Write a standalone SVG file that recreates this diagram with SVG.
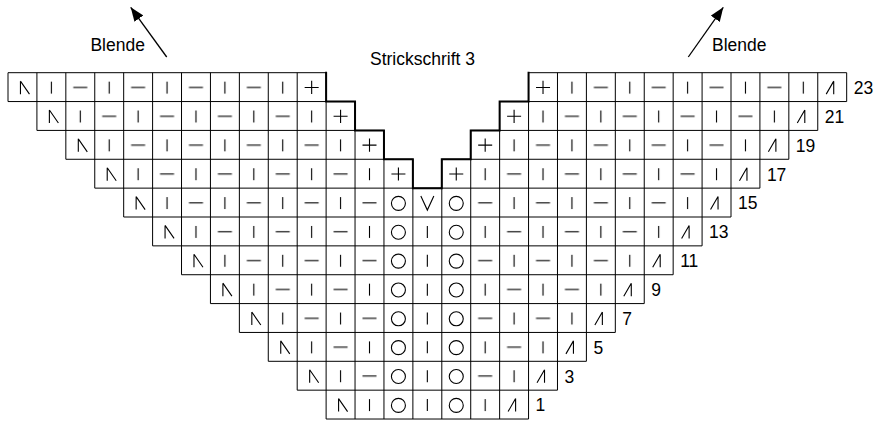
<svg xmlns="http://www.w3.org/2000/svg" xmlns:xlink="http://www.w3.org/1999/xlink" width="881" height="427" viewBox="0 0 881 427">
<style>
.s{fill:none;stroke:#000;stroke-width:1.1}
.grid{fill:none;stroke:#000;stroke-width:1}
.thick{fill:none;stroke:#000;stroke-width:2;stroke-linecap:square}
.t{font-family:"Liberation Sans",Arial,sans-serif;font-size:17.5px;fill:#000}
.arr{fill:none;stroke:#000;stroke-width:1.3}
</style>
<defs>
<path id="k" class="s" d="M0,-5.5V6.5"/>
<path id="p" class="s" d="M-7,0.3H7"/>
<circle id="o" class="s" cx="0" cy="0.8" r="7"/>
<path id="x" class="s" d="M-7,0.3H7M0,-6.3V6.9"/>
<path id="v" class="s" d="M-6.5,-6.5L0,7.5L6.5,-6.5"/>
<path id="l" class="s" d="M-2,-6V7M-2,-6L7,7"/>
<path id="r" class="s" d="M1.5,-6V7M1.5,-6L-6,7"/>
<pattern id="rib" patternUnits="userSpaceOnUse" x="8" y="72.7" width="57.84" height="57.72">
<use href="#p" x="14.46" y="14.43"/>
<use href="#k" x="43.38" y="14.43"/>
<use href="#k" x="14.46" y="43.29"/>
<use href="#p" x="43.38" y="43.29"/>
</pattern>
<marker id="ah" markerUnits="userSpaceOnUse" markerWidth="14" markerHeight="11" viewBox="0 0 14 11" refX="14" refY="5.5" orient="auto">
<path d="M0,0L14,5.5L0,11z" fill="#000"/>
</marker>
</defs>
<rect width="881" height="427" fill="#fff"/>
<g id="ribbing">
<polygon fill="url(#rib)" points="36.92,72.7 297.2,72.7 297.2,101.56 326.12,101.56 326.12,130.42 355.04,130.42 355.04,159.28 383.96,159.28 383.96,419.02 355.04,419.02 355.04,390.16 326.12,390.16 326.12,361.3 297.2,361.3 297.2,332.44 268.28,332.44 268.28,303.58 239.36,303.58 239.36,274.72 210.44,274.72 210.44,245.86 181.52,245.86 181.52,217 152.6,217 152.6,188.14 123.68,188.14 123.68,159.28 94.76,159.28 94.76,130.42 65.84,130.42 65.84,101.56 36.92,101.56"/>
<polygon fill="url(#rib)" points="557.48,72.7 817.76,72.7 817.76,101.56 788.84,101.56 788.84,130.42 759.92,130.42 759.92,159.28 731,159.28 731,188.14 702.08,188.14 702.08,217 673.16,217 673.16,245.86 644.24,245.86 644.24,274.72 615.32,274.72 615.32,303.58 586.4,303.58 586.4,332.44 557.48,332.44 557.48,361.3 528.56,361.3 528.56,390.16 499.64,390.16 499.64,419.02 470.72,419.02 470.72,159.28 499.64,159.28 499.64,130.42 528.56,130.42 528.56,101.56 557.48,101.56"/>
</g>
<g id="grid">
<path class="grid" d="M8,72.7H326.12M528.56,72.7H846.68M8,101.56H355.04M499.64,101.56H846.68M36.92,130.42H383.96M470.72,130.42H817.76M65.84,159.28H412.88M441.8,159.28H788.84M94.76,188.14H759.92M123.68,217H731M152.6,245.86H702.08M181.52,274.72H673.16M210.44,303.58H644.24M239.36,332.44H615.32M268.28,361.3H586.4M297.2,390.16H557.48M326.12,419.02H528.56
M8,72.7V101.56M36.92,72.7V130.42M65.84,72.7V159.28M94.76,72.7V188.14M123.68,72.7V217M152.6,72.7V245.86M181.52,72.7V274.72M210.44,72.7V303.58M239.36,72.7V332.44M268.28,72.7V361.3M297.2,72.7V390.16M326.12,72.7V419.02M355.04,101.56V419.02M383.96,130.42V419.02M412.88,159.28V419.02M441.8,159.28V419.02M470.72,130.42V419.02M499.64,101.56V419.02M528.56,72.7V419.02M557.48,72.7V390.16M586.4,72.7V361.3M615.32,72.7V332.44M644.24,72.7V303.58M673.16,72.7V274.72M702.08,72.7V245.86M731,72.7V217M759.92,72.7V188.14M788.84,72.7V159.28M817.76,72.7V130.42M846.68,72.7V101.56"/>
<path class="thick" d="M326.12,72.7V101.56H355.04V130.42H383.96V159.28H412.88V188.14H441.8V159.28H470.72V130.42H499.64V101.56H528.56V72.7"/>
</g>
<g id="row23" transform="translate(0,87.13)"><use href="#l" x="22.46"/><use href="#x" x="311.66"/><use href="#x" x="543.02"/><use href="#r" x="832.22"/><text class="t" x="853.7" y="6.9">23</text></g>
<g id="row21" transform="translate(0,115.99)"><use href="#l" x="51.38"/><use href="#x" x="340.58"/><use href="#x" x="514.1"/><use href="#r" x="803.3"/><text class="t" x="824.8" y="6.9">21</text></g>
<g id="row19" transform="translate(0,144.85)"><use href="#l" x="80.3"/><use href="#x" x="369.5"/><use href="#x" x="485.18"/><use href="#r" x="774.38"/><text class="t" x="795.8" y="6.9">19</text></g>
<g id="row17" transform="translate(0,173.71)"><use href="#l" x="109.22"/><use href="#x" x="398.42"/><use href="#x" x="456.26"/><use href="#r" x="745.46"/><text class="t" x="766.9" y="6.9">17</text></g>
<g id="row15" transform="translate(0,202.57)"><use href="#l" x="138.14"/><use href="#o" x="398.42"/><use href="#v" x="427.34"/><use href="#o" x="456.26"/><use href="#r" x="716.54"/><text class="t" x="738" y="6.9">15</text></g>
<g id="row13" transform="translate(0,231.43)"><use href="#l" x="167.06"/><use href="#o" x="398.42"/><use href="#k" x="427.34"/><use href="#o" x="456.26"/><use href="#r" x="687.62"/><text class="t" x="709.1" y="6.9">13</text></g>
<g id="row11" transform="translate(0,260.29)"><use href="#l" x="195.98"/><use href="#o" x="398.42"/><use href="#k" x="427.34"/><use href="#o" x="456.26"/><use href="#r" x="658.7"/><text class="t" x="680.2" y="6.9">11</text></g>
<g id="row9" transform="translate(0,289.15)"><use href="#l" x="224.9"/><use href="#o" x="398.42"/><use href="#k" x="427.34"/><use href="#o" x="456.26"/><use href="#r" x="629.78"/><text class="t" x="651.2" y="6.9">9</text></g>
<g id="row7" transform="translate(0,318.01)"><use href="#l" x="253.82"/><use href="#o" x="398.42"/><use href="#k" x="427.34"/><use href="#o" x="456.26"/><use href="#r" x="600.86"/><text class="t" x="622.3" y="6.9">7</text></g>
<g id="row5" transform="translate(0,346.87)"><use href="#l" x="282.74"/><use href="#o" x="398.42"/><use href="#k" x="427.34"/><use href="#o" x="456.26"/><use href="#r" x="571.94"/><text class="t" x="593.4" y="6.9">5</text></g>
<g id="row3" transform="translate(0,375.73)"><use href="#l" x="311.66"/><use href="#o" x="398.42"/><use href="#k" x="427.34"/><use href="#o" x="456.26"/><use href="#r" x="543.02"/><text class="t" x="564.5" y="6.9">3</text></g>
<g id="row1" transform="translate(0,404.59)"><use href="#l" x="340.58"/><use href="#o" x="398.42"/><use href="#k" x="427.34"/><use href="#o" x="456.26"/><use href="#r" x="514.1"/><text class="t" x="535.6" y="6.9">1</text></g>
<g id="title"><text class="t" x="370" y="65">Strickschrift 3</text></g>
<g id="label-left"><text class="t" x="90.4" y="50.7">Blende</text></g>
<g id="label-right"><text class="t" x="712" y="50.7">Blende</text></g>
<g id="connectors">
<line class="arr" x1="166.7" y1="57" x2="130.7" y2="7.3" marker-end="url(#ah)"/>
<line class="arr" x1="688.3" y1="57" x2="723.3" y2="7.3" marker-end="url(#ah)"/>
</g>
</svg>
